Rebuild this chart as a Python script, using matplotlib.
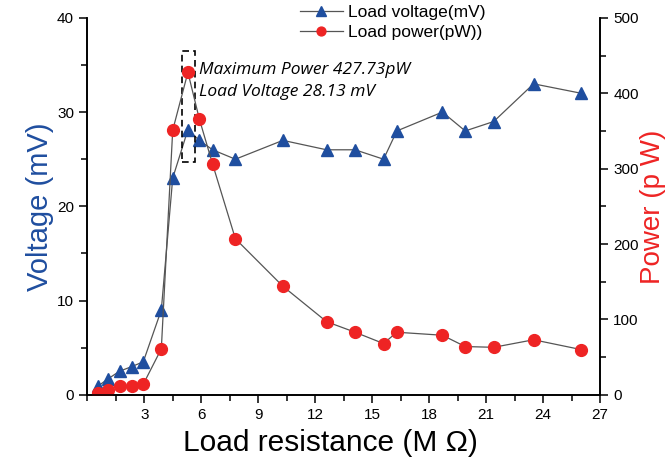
import numpy as np
import matplotlib.pyplot as plt
from matplotlib.patches import Rectangle
from matplotlib.ticker import MultipleLocator

plt.rcParams['font.family'] = ['Liberation Sans', 'DejaVu Sans']

# load resistance (M ohm)
resistance = [0.55, 1.1, 1.7, 2.35, 2.95, 3.9, 4.5, 5.3, 5.9, 6.6, 7.8,
              10.3, 12.6, 14.1, 15.6, 16.3, 18.7, 19.9, 21.4, 23.5, 26.0]
# load voltage (mV)
voltage = [0.9, 1.7, 2.5, 3.0, 3.5, 9.0, 23.0, 28.13, 27.0, 26.0, 25.0,
           27.0, 26.0, 26.0, 25.0, 28.0, 30.0, 28.0, 29.0, 33.0, 32.0]
# load power (pW)
power = [3, 7, 12, 12, 14, 61, 351, 427.73, 366, 306, 207,
         144, 97, 83, 68, 83, 79, 64, 63, 73, 60]

blue = '#1f4e9f'
red = '#ee2424'
grey = '#555555'

fig = plt.figure(figsize=(6.66, 4.7), dpi=100)
ax = fig.add_axes([0.131, 0.16, 0.770, 0.802])
ax2 = ax.twinx()

l1, = ax.plot(resistance, voltage, color=grey, lw=0.9, marker='^', ms=9,
              mfc=blue, mec=blue, label='Load voltage(mV)')
l2, = ax2.plot(resistance, power, color=grey, lw=0.9, marker='o', ms=8.5,
               mfc=red, mec=red, label='Load power(pW))')

ax.set_xlim(0, 27)
ax.set_ylim(0, 40)
ax2.set_ylim(0, 500)

ax.set_xticks(np.arange(3, 28, 3))
ax.xaxis.set_minor_locator(MultipleLocator(1.5))
ax.yaxis.set_major_locator(MultipleLocator(10))
ax.yaxis.set_minor_locator(MultipleLocator(5))
ax2.yaxis.set_major_locator(MultipleLocator(100))
ax2.yaxis.set_minor_locator(MultipleLocator(50))

for a in (ax, ax2):
    a.spines['top'].set_visible(False)
    for s in a.spines.values():
        s.set_linewidth(1.2)
    a.tick_params(which='major', direction='out', length=6, width=1.1, labelsize=11)
    a.tick_params(which='minor', direction='out', length=4, width=1.1)

ax.set_xlabel('Load resistance (M Ω)', fontsize=21.5, labelpad=4)
ax.xaxis.set_label_coords(0.475, -0.09)
ax.set_ylabel('Voltage (mV)', fontsize=21, color=blue, labelpad=2)
ax2.set_ylabel('Power (p W)', fontsize=20, color=red, labelpad=1)

# box around the maximum power point
ax.add_patch(Rectangle((4.97, 24.7), 0.7, 11.8, fill=False, ls=(0, (4, 2.5)),
                       lw=1.2, ec='black', zorder=5))
ax.text(5.9, 34.5, 'Maximum Power 427.73pW', fontsize=12.5, style='italic',
        family=['Open Sans', 'DejaVu Sans'], va='center')
ax.text(5.9, 32.1, 'Load Voltage 28.13 mV', fontsize=12.5, style='italic',
        family=['Open Sans', 'DejaVu Sans'], va='center')

ax2.legend([l1, l2], [l1.get_label(), l2.get_label()], loc='upper left',
           bbox_to_anchor=(0.45, 0.99), bbox_transform=fig.transFigure,
           borderaxespad=0, borderpad=0, frameon=False, fontsize=12.5,
           markerscale=0.75, handlelength=2.5, handletextpad=0.3,
           labelspacing=0.3)

fig.savefig('out.png', dpi=100)
